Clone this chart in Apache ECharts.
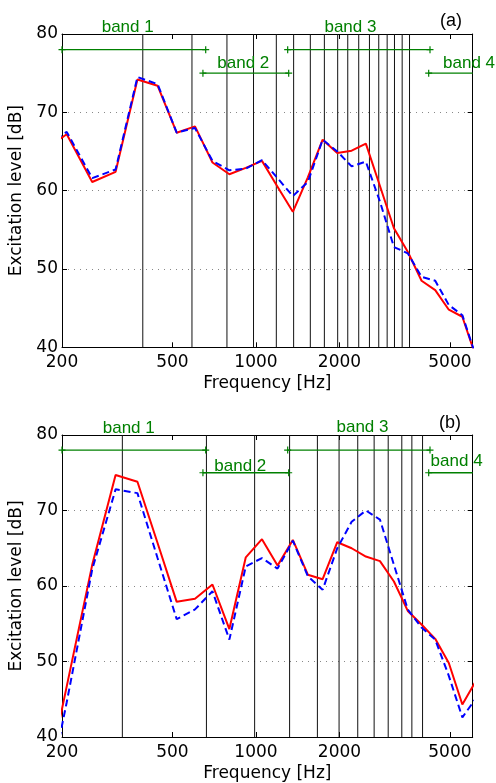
<!DOCTYPE html>
<html>
<head>
<meta charset="utf-8">
<script src="https://cdn.jsdelivr.net/npm/echarts@6/dist/echarts.min.js"></script>
<style>
  html, body { margin: 0; padding: 0; background: #fff; }
  #chart { width: 496px; height: 783px; }
</style>
</head>
<body>
<div id="chart"></div>
<script>
// analysis frequencies (Hz), ERB spaced
const freqs = [163, 208, 257, 312, 374, 442, 518, 603, 697, 802, 919, 1051, 1196, 1358, 1538, 1739, 1963, 2212, 2489, 2798, 3142, 3524, 3951, 4426, 4954, 5543, 6199];

// panel (a)
const redA  = [64.6, 67.2, 61.1, 62.4, 74.2, 73.4, 67.4, 68.2, 63.6, 62.1, 62.9, 63.8, 60.5, 57.3, 61.7, 66.5, 64.8, 65.1, 66.0, 60.6, 55.2, 52.2, 48.5, 47.3, 44.8, 43.9, 38.8];
const blueA = [65.0, 67.5, 61.6, 62.7, 74.5, 73.6, 67.4, 68.0, 63.8, 62.6, 62.8, 63.9, 61.6, 59.3, 61.1, 66.5, 65.0, 63.1, 63.7, 58.6, 52.8, 52.0, 49.0, 48.5, 45.4, 44.1, 38.9];
const harmA = [391, 588, 786, 980, 1184, 1367, 1570, 1764, 1970, 2142, 2346, 2564, 2770, 2970, 3156, 3364, 3576];

// panel (b)
const redB  = [28.2, 46.7, 62.8, 74.7, 73.8, 65.7, 57.9, 58.3, 60.2, 54.3, 63.8, 66.2, 62.7, 66.1, 61.5, 60.9, 65.8, 65.0, 63.9, 63.3, 60.6, 56.7, 54.9, 53.0, 49.8, 44.3, 47.4];
const blueB = [25.5, 44.6, 62.2, 72.8, 72.3, 63.7, 55.6, 56.9, 59.3, 52.9, 62.6, 63.7, 62.3, 66.0, 61.3, 59.5, 65.0, 68.5, 70.0, 68.8, 62.8, 56.9, 54.5, 52.9, 48.1, 42.6, 45.1];
const harmB = [330, 663, 989, 1322, 1665, 1993, 2327, 2666, 2996, 3354, 3646, 3984];

// bands
const bandNames = ['band 1', 'band 2', 'band 3', 'band 4'];
const bandStart = [200, 644, 1301, 4192];
const bandEnd   = [659, 1312, 4238, 6040];
const bandLevel = [78, 75, 78, 75];
const bandLabelFreqA  = [345, 900, 2190, 5860];
const bandLabelLevelA = [80.9, 76.3, 80.9, 76.3];
const bandLabelFreqB  = [348, 878, 2420, 5285];
const bandLabelLevelB = [80.9, 75.9, 81.0, 76.5];

const xTicks = [200, 500, 1000, 2000, 5000];
const fMin = 200, fMax = 6040;

const lg = Math.log10;
const green = '#008000';
const tickFont = 'DejaVu Sans';
const plus = 'path://M5,0 L5,10 M0,5 L10,5';

const chart = echarts.init(document.getElementById('chart'));

function xAxes(gridIndex) {
  const base = {
    type: 'value',
    gridIndex,
    min: lg(fMin),
    max: lg(fMax),
    splitLine: { show: false },
    axisLine: { lineStyle: { color: '#000', width: 1 } },
    axisTick: { inside: true, length: 5, customValues: xTicks.map(lg), lineStyle: { color: '#000' } },
  };
  return [
    {
      ...base,
      position: 'bottom',
      name: 'Frequency [Hz]',
      nameLocation: 'middle',
      nameGap: 28,
      nameTextStyle: { color: '#000', fontSize: 17, fontFamily: tickFont },
      axisLabel: {
        customValues: xTicks.map(lg),
        formatter: (v) => String(Math.round(Math.pow(10, v))),
        color: '#000', fontSize: 17, fontFamily: tickFont, margin: 7,
      },
    },
    { ...base, position: 'top', axisLabel: { show: false } },
  ];
}

function yAxes(gridIndex) {
  const base = {
    type: 'value',
    gridIndex,
    min: 40,
    max: 80,
    interval: 10,
    axisLine: { show: true, lineStyle: { color: '#000', width: 1 } },
    axisTick: { show: true, inside: true, length: 5, lineStyle: { color: '#000' } },
  };
  return [
    {
      ...base,
      position: 'left',
      name: 'Excitation level [dB]',
      nameLocation: 'middle',
      nameGap: 33,
      nameTextStyle: { color: '#000', fontSize: 17, fontFamily: tickFont },
      axisLabel: { color: '#000', fontSize: 17, fontFamily: tickFont, margin: 4 },
      splitLine: { show: true, lineStyle: { color: '#888', type: [1, 5], width: 1 } },
    },
    { ...base, position: 'right', axisLabel: { show: false }, splitLine: { show: false } },
  ];
}

function panelSeries(xi, yi, red, blue, harm, labFreq, labLevel) {
  const out = [];
  // harmonic lines
  out.push({
    type: 'custom',
    xAxisIndex: xi,
    yAxisIndex: yi,
    data: harm.map((f) => [lg(f)]),
    renderItem: (params, api) => {
      const p0 = api.coord([api.value(0), 40]);
      const p1 = api.coord([api.value(0), 80]);
      return {
        type: 'line',
        shape: { x1: p0[0], y1: p0[1], x2: p1[0], y2: p1[1] },
        style: { stroke: '#111', lineWidth: 1 },
      };
    },
    silent: true,
  });
  // band ranges
  bandNames.forEach((name, i) => {
    out.push({
      type: 'line',
      xAxisIndex: xi,
      yAxisIndex: yi,
      data: [
        { value: [lg(bandStart[i]), bandLevel[i]] },
        { value: [lg(bandEnd[i]), bandLevel[i]], symbol: i === 3 ? 'none' : plus },
      ],
      symbol: plus,
      symbolSize: 7,
      lineStyle: { color: green, width: 1.3 },
      itemStyle: { color: green, borderColor: green, borderWidth: 1.2 },
      animation: false,
      silent: true,
    });
  });
  out.push({
    type: 'line',
    xAxisIndex: xi,
    yAxisIndex: yi,
    data: freqs.map((f, i) => [lg(f), red[i]]),
    showSymbol: false,
    lineStyle: { color: '#ff0000', width: 2 },
    animation: false,
  });
  out.push({
    type: 'line',
    xAxisIndex: xi,
    yAxisIndex: yi,
    data: freqs.map((f, i) => [lg(f), blue[i]]),
    showSymbol: false,
    lineStyle: { color: '#0000ff', width: 2, type: [7, 4] },
    animation: false,
  });
  // band labels
  out.push({
    type: 'custom',
    xAxisIndex: xi,
    yAxisIndex: yi,
    data: bandNames.map((n, i) => [lg(labFreq[i]), labLevel[i], n]),
    renderItem: (params, api) => {
      const p = api.coord([api.value(0), api.value(1)]);
      return {
        type: 'text',
        x: p[0],
        y: p[1],
        style: {
          text: bandNames[params.dataIndex],
          fill: green,
          font: '17px "Liberation Sans", Arial, sans-serif',
          align: 'center',
          verticalAlign: 'middle',
        },
      };
    },
    silent: true,
  });
  return out;
}

const option = {
  animation: false,
  grid: [
    { left: 62, top: 34, width: 410.7, height: 313.3 },
    { left: 62, top: 435, width: 410.7, height: 302.7 },
  ],
  xAxis: [...xAxes(0), ...xAxes(1)],
  yAxis: [...yAxes(0), ...yAxes(1)],
  series: [
    ...panelSeries(0, 0, redA, blueA, harmA, bandLabelFreqA, bandLabelLevelA),
    ...panelSeries(2, 2, redB, blueB, harmB, bandLabelFreqB, bandLabelLevelB),
  ],
  graphic: [
    { type: 'text', x: 451, y: 21, style: { text: '(a)', font: '18px "Liberation Sans", Arial', fill: '#000', align: 'center', verticalAlign: 'middle' } },
    { type: 'text', x: 450, y: 423, style: { text: '(b)', font: '18px "Liberation Sans", Arial', fill: '#000', align: 'center', verticalAlign: 'middle' } },
  ],
};

chart.setOption(option);
</script>
</body>
</html>
